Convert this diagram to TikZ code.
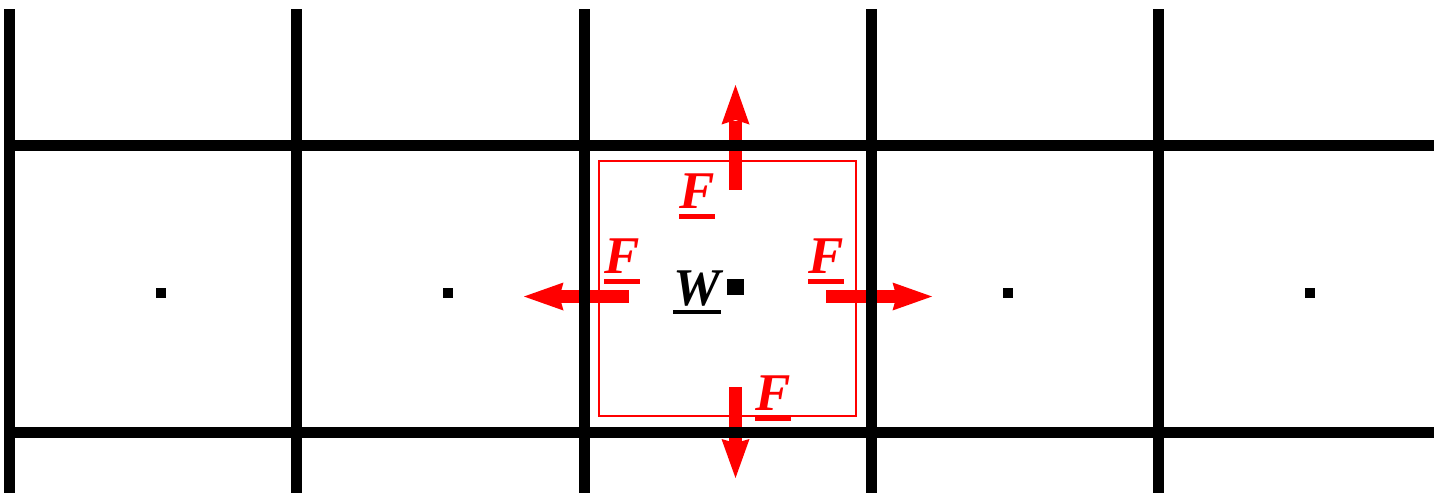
\documentclass[tikz,border=0pt]{standalone}
\usepackage{fontspec}
\setmainfont{Liberation Serif}
\usetikzlibrary{calc}
\tikzset{
  gridline/.style={line width=5.5pt, black, line cap=butt},
  cellbox/.style={draw=red, line width=1pt},
  flux/.style={fill=red},
  sym/.style={inner sep=0pt, anchor=base west, font=\fontsize{26.5}{30}\selectfont\bfseries\itshape},
  centre/.style={fill=black},
}
\begin{document}
\begin{tikzpicture}[x=0.5pt, y=-0.5pt]
\useasboundingbox (0,0) rectangle (1434,493);
% red control volume
\draw[cellbox] (598.5,160.5) rectangle (855.5,416);
% flux arrows (drawn below the grid)
\fill[flux] (729,190) rectangle (742,121);
\fill[flux] (735.5,85) -- (749.5,124.5) -- (735.5,120) -- (721.5,124.5) -- cycle;
\fill[flux] (729,387) rectangle (742,444);
\fill[flux] (735.5,478) -- (749.5,439) -- (735.5,443) -- (721.5,439) -- cycle;
\fill[flux] (629,290) rectangle (558,303);
\fill[flux] (524,296.5) -- (563.5,282.5) -- (559.5,296.5) -- (563.5,310.5) -- cycle;
\fill[flux] (826,290) rectangle (898,303);
\fill[flux] (932,296.5) -- (892.5,282.5) -- (896.5,296.5) -- (892.5,310.5) -- cycle;
% grid
\foreach \x in {9.5,296.5,584,871,1158.5}
  \draw[gridline] (\x,9) -- (\x,493);
\foreach \y in {145,432.5}
  \draw[gridline] (4,\y) -- (1434,\y);
% cell centres
\foreach \x in {161,448,1008,1310}
  \fill[centre] (\x-5,293-5) rectangle (\x+5,293+5);
\fill[centre] (727,279) rectangle (743.5,294.5);
% labels
\node[sym, red] (ft) at (679,208) {F};
\node[sym, red] (fl) at (604,273) {F};
\node[sym, red] (fr) at (808,273) {F};
\node[sym, red] (fb) at (755,410) {F};
\node[sym, black] (w) at (673,305) {W};
\foreach \n in {ft,fl,fr,fb}
  \fill[red] ($(\n.base west)+(0,6)$) rectangle ($(\n.base east)+(0,10.5)$);
\fill[black] ($(w.base west)+(0,4.5)$) rectangle ($(w.base east)+(0,9)$);
\end{tikzpicture}
\end{document}
